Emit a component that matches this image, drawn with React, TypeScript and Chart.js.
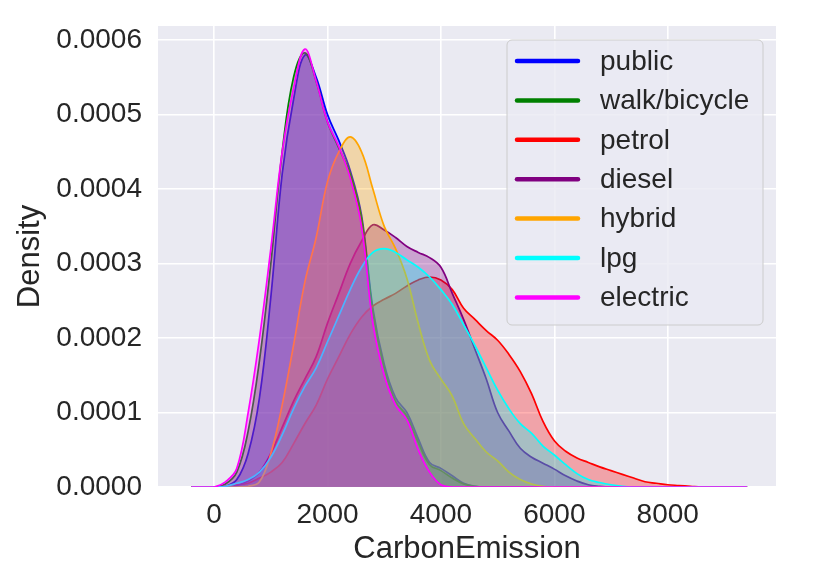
import React, { useEffect, useRef } from 'react';
import { Chart, registerables } from 'chart.js';

Chart.register(...registerables);

// CarbonEmission grid the densities were read at
const emission = [
  -400, -200, 0, 200, 400, 600, 800, 1000, 1200, 1400, 1600, 1800, 2000, 2200, 2400, 2600,
  2800, 3000, 3200, 3400, 3600, 3800, 4000, 4200, 4400, 4600, 4800, 5000, 5200, 5400, 5600,
  5800, 6000, 6200, 6400, 6600, 6800, 7000, 7200, 7400, 7600, 7800, 8000, 8200, 8400, 8600,
  8800, 9000, 9200, 9400,
];

// densities in units of 1e-4
const publicDens = [
  0, 0, 0, 0.01, 0.1, 0.45, 1.2, 2.55, 4.2, 5.2, 5.8, 5.5, 5.0, 4.65, 4.25, 3.65,
  2.4, 1.65, 1.2, 1.0, 0.65, 0.33, 0.25, 0.15, 0.05, 0.01, 0, 0, 0, 0, 0,
  0, 0, 0, 0, 0, 0, 0, 0, 0, 0, 0, 0, 0, 0, 0,
  0, 0, 0, 0,
];
const walkDens = [
  0, 0, 0, 0.04, 0.2, 0.75, 1.7, 3.0, 4.5, 5.5, 5.83, 5.45, 4.9, 4.55, 4.2, 3.6,
  2.35, 1.6, 1.15, 0.95, 0.6, 0.3, 0.22, 0.12, 0.04, 0.01, 0, 0, 0, 0, 0,
  0, 0, 0, 0, 0, 0, 0, 0, 0, 0, 0, 0, 0, 0, 0,
  0, 0, 0, 0,
];
const petrolDens = [
  0, 0, 0, 0.01, 0.03, 0.05, 0.12, 0.2, 0.33, 0.58, 0.85, 1.1, 1.45, 1.75, 2.05, 2.28,
  2.43, 2.52, 2.6, 2.7, 2.78, 2.82, 2.78, 2.65, 2.4, 2.25, 2.1, 1.97, 1.78, 1.55, 1.25,
  0.88, 0.62, 0.48, 0.39, 0.33, 0.27, 0.22, 0.17, 0.12, 0.07, 0.05, 0.03, 0.02, 0.01, 0,
  0, 0, 0, 0,
];
const dieselDens = [
  0, 0, 0, 0, 0.02, 0.08, 0.2, 0.45, 0.8, 1.15, 1.45, 1.75, 2.2, 2.6, 3.0, 3.3,
  3.52, 3.45, 3.35, 3.23, 3.15, 3.08, 2.95, 2.6, 2.25, 1.85, 1.45, 1.0, 0.75, 0.52, 0.4,
  0.32, 0.24, 0.15, 0.08, 0.03, 0.01, 0, 0, 0, 0, 0, 0, 0, 0, 0,
  0, 0, 0, 0,
];
const hybridDens = [
  0, 0, 0, 0, 0, 0.01, 0.07, 0.45, 1.1, 1.9, 2.75, 3.35, 4.1, 4.5, 4.7, 4.5,
  4.0, 3.5, 3.2, 2.8, 2.2, 1.7, 1.45, 1.22, 0.85, 0.65, 0.47, 0.35, 0.2, 0.1, 0.04,
  0.01, 0, 0, 0, 0, 0, 0, 0, 0, 0, 0, 0, 0, 0, 0,
  0, 0, 0, 0,
];
const lpgDens = [
  0, 0, 0, 0.01, 0.05, 0.1, 0.2, 0.4, 0.7, 1.05, 1.35, 1.6, 1.95, 2.3, 2.65, 2.95,
  3.15, 3.2, 3.15, 3.05, 2.95, 2.82, 2.65, 2.45, 2.18, 1.9, 1.6, 1.3, 1.05, 0.85, 0.72,
  0.55, 0.43, 0.3, 0.18, 0.1, 0.06, 0.03, 0.01, 0, 0, 0, 0, 0, 0, 0,
  0, 0, 0, 0,
];
const electricDens = [
  0, 0, 0, 0.07, 0.25, 1.0, 2.0, 3.2, 4.5, 5.35, 5.88, 5.45, 4.9, 4.57, 4.15, 3.5,
  2.2, 1.5, 1.1, 0.9, 0.5, 0.2, 0.03, 0, 0, 0, 0, 0, 0, 0, 0,
  0, 0, 0, 0, 0, 0, 0, 0, 0, 0, 0, 0, 0, 0, 0,
  0, 0, 0, 0,
];

const seriesNames = ['public', 'walk/bicycle', 'petrol', 'diesel', 'hybrid', 'lpg', 'electric'];
const seriesValues = [publicDens, walkDens, petrolDens, dieselDens, hybridDens, lpgDens, electricDens];
const seriesColors = [
  [0, 0, 255],
  [0, 128, 0],
  [255, 0, 0],
  [128, 0, 128],
  [255, 165, 0],
  [0, 255, 255],
  [255, 0, 255],
];

const xTicks = [0, 2000, 4000, 6000, 8000];
const yTicks = [0, 0.0001, 0.0002, 0.0003, 0.0004, 0.0005, 0.0006];

const FONT = '"Liberation Sans", Arial, Helvetica, sans-serif';
const TEXT = '#262626';

const bgPlugin = {
  id: 'panelBg',
  beforeDraw(chart: any) {
    const { ctx, chartArea: a } = chart;
    ctx.save();
    ctx.fillStyle = '#eaeaf2';
    ctx.fillRect(a.left, a.top, a.right - a.left, a.bottom - a.top);
    ctx.restore();
  },
};

const legendPlugin = {
  id: 'boxLegend',
  afterDraw(chart: any) {
    const { ctx, chartArea: a } = chart;
    const w = 256;
    const h = 285;
    const x = a.right - 13 - w;
    const y = a.top + 14;
    ctx.save();
    ctx.beginPath();
    ctx.roundRect(x, y, w, h, 5);
    ctx.fillStyle = 'rgba(234,234,242,0.8)';
    ctx.fill();
    ctx.lineWidth = 1;
    ctx.strokeStyle = '#cccccc';
    ctx.stroke();
    ctx.font = `28px ${FONT}`;
    ctx.textBaseline = 'middle';
    ctx.textAlign = 'left';
    chart.data.datasets.forEach((ds: any, i: number) => {
      const ry = y + 21 + i * 39.4;
      ctx.beginPath();
      ctx.moveTo(x + 10, ry);
      ctx.lineTo(x + 71, ry);
      ctx.lineWidth = 4.5;
      ctx.lineCap = 'round';
      ctx.strokeStyle = ds.borderColor;
      ctx.stroke();
      ctx.fillStyle = TEXT;
      ctx.fillText(ds.label, x + 93, ry + 1);
    });
    ctx.restore();
  },
};

const App: React.FC = () => {
  const canvasRef = useRef<HTMLCanvasElement>(null);
  const chartRef = useRef<Chart>();

  useEffect(() => {
    if (!canvasRef.current) return;
    if (chartRef.current) chartRef.current.destroy();

    const datasets = seriesNames.map((name, i) => {
      const [r, g, b] = seriesColors[i];
      return {
        label: name,
        data: emission.map((x, k) => ({ x, y: seriesValues[i][k] * 1e-4 })),
        borderColor: `rgb(${r},${g},${b})`,
        backgroundColor: `rgba(${r},${g},${b},0.3)`,
        borderWidth: 1.7,
        fill: 'origin',
        pointRadius: 0,
        tension: 0.4,
        order: seriesNames.length - 1 - i,
      };
    });

    chartRef.current = new Chart(canvasRef.current, {
      type: 'line',
      data: { datasets },
      options: {
        animation: false,
        responsive: true,
        maintainAspectRatio: false,
        layout: { padding: { top: 26, right: 46, left: 0, bottom: 0 } },
        plugins: {
          legend: { display: false },
          tooltip: { enabled: false },
        },
        scales: {
          x: {
            type: 'linear',
            min: -990,
            max: 9910,
            afterFit: (s: any) => {
              s.height = 85;
              s.paddingLeft = 0;
              s.paddingRight = 0;
            },
            afterBuildTicks: (s: any) => { s.ticks = xTicks.map((v) => ({ value: v })); },
            border: { display: false },
            grid: { color: '#ffffff', lineWidth: 1.6, drawTicks: false },
            ticks: {
              padding: 11,
              color: TEXT,
              font: { family: FONT, size: 28 },
              callback: (v: any) => String(v),
            },
            title: {
              display: true,
              text: 'CarbonEmission',
              color: TEXT,
              font: { family: FONT, size: 31 },
              padding: { top: 0, bottom: 4 },
            },
          },
          y: {
            type: 'linear',
            min: 0,
            max: 0.000619,
            afterFit: (s: any) => {
              s.width = 158;
              s.paddingTop = 0;
              s.paddingBottom = 0;
            },
            afterBuildTicks: (s: any) => { s.ticks = yTicks.map((v) => ({ value: v })); },
            border: { display: false },
            grid: { color: '#ffffff', lineWidth: 1.6, drawTicks: false },
            ticks: {
              padding: 16,
              color: TEXT,
              font: { family: FONT, size: 28 },
              callback: (v: any) => Number(v).toFixed(4),
            },
            title: {
              display: true,
              text: 'Density',
              color: TEXT,
              font: { family: FONT, size: 31 },
              padding: { top: 12, bottom: 0 },
            },
          },
        },
      },
      plugins: [bgPlugin, legendPlugin],
    });

    return () => {
      if (chartRef.current) {
        chartRef.current.destroy();
        chartRef.current = undefined;
      }
    };
  }, []);

  return (
    <div style={{ position: 'fixed', left: 0, top: 0, width: 822, height: 572, background: '#ffffff' }}>
      <canvas ref={canvasRef} />
    </div>
  );
};

export default App;
